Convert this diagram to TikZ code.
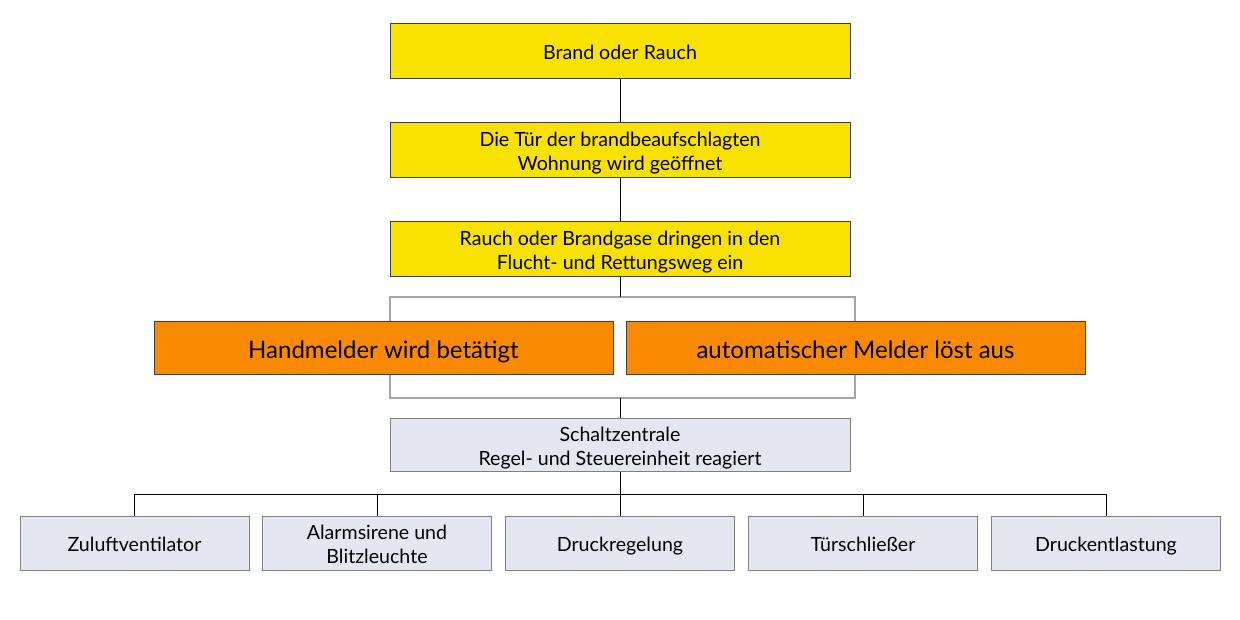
\documentclass[tikz,border=0pt]{standalone}
\usepackage{fontspec}
\setmainfont{Lato}
\definecolor{yel}{HTML}{F9E100}
\definecolor{org}{HTML}{F98A00}
\definecolor{lav}{HTML}{E4E6F2}
\definecolor{brd}{HTML}{404040}
\definecolor{gln}{HTML}{A6A6A6}
\begin{document}
\begin{tikzpicture}[x=1pt,y=-1pt,
  box/.style={draw=brd,line width=1pt,minimum width=460pt,minimum height=55pt,inner sep=0pt,align=center,font=\fontsize{19.6}{24}\selectfont,anchor=north,text height=20pt,text depth=3.2pt},
  twoline/.style={text height=44pt,text depth=3.2pt},
  ybox/.style={box,fill=yel},
  obox/.style={box,fill=org,minimum width=459pt,minimum height=53pt,font=\fontsize{24}{28}\selectfont,text height=25pt,text depth=3.4pt},
  gbox/.style={box,fill=lav,draw=gray,minimum height=53pt},
  sbox/.style={box,fill=lav,draw=gray,minimum width=229pt,minimum height=54pt},
  conn/.style={line width=1pt,black},
  gconn/.style={line width=1.3pt,gln}]
\useasboundingbox (0,0) rectangle (1240,620);
\node[ybox] (b1) at (620,23) {Brand oder Rauch};
\node[ybox,twoline] (b2) at (620,122) {Die Tür der brandbeaufschlagten\\Wohnung wird geöffnet};
\node[ybox,twoline] (b3) at (620,221) {Rauch oder Brandgase dringen in den\\Flucht- und Rettungsweg ein};
\coordinate (tl) at (390,297);
\coordinate (tr) at (855,297);
\coordinate (bl) at (390,398);
\coordinate (br) at (855,398);
\coordinate (tm) at (620,297);
\coordinate (bm) at (620,398);
\draw[gconn] (tl) -- (tr) -- (br) -- (bl) -- cycle;
\node[obox] (h) at (383.5,321) {Handmelder wird betätigt};
\node[obox] (a) at (855.5,321) {automatischer Melder löst aus};
\node[gbox,twoline] (s) at (620,418) {Schaltzentrale\\Regel- und Steuereinheit reagiert};
\node[sbox] (z1) at (134.5,516) {Zuluftventilator};
\node[sbox,twoline] (z2) at (377,516) {Alarmsirene und\\Blitzleuchte};
\node[sbox] (z3) at (620,516) {Druckregelung};
\node[sbox] (z4) at (863,516) {Türschließer};
\node[sbox] (z5) at (1106,516) {Druckentlastung};
\draw[conn] (b1.south) -- (b2.north);
\draw[conn] (b2.south) -- (b3.north);
\draw[conn] (b3.south) -- (tm);
\draw[conn] (bm) -- (s.north);
\draw[conn] (s.south) -- (620,494) coordinate (hm);
\coordinate (hl) at (134.5,494);
\coordinate (hr) at (1106,494);
\draw[conn] (hl) -- (hr);
\foreach \n in {z1,z2,z3,z4,z5} \draw[conn] (\n.north) -- (\n.north |- hm);
\end{tikzpicture}
\end{document}
